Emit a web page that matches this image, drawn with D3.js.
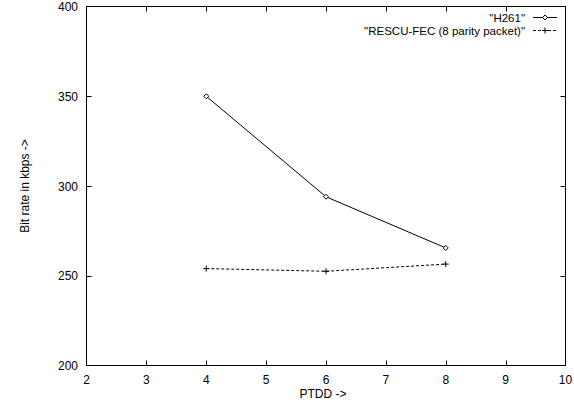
<!DOCTYPE html>
<html><head><meta charset="utf-8">
<script src="https://cdn.jsdelivr.net/npm/d3@7"></script>
<style>body{margin:0;background:#fff}svg{display:block}text{font-family:"Liberation Sans",Arial,sans-serif;font-size:12px;fill:#000}text.leg{font-size:11.5px}</style>
</head><body><svg id="c" width="574" height="402"></svg>
<script>
const xTicks = [2,3,4,5,6,7,8,9,10];
const yTicks = [200,250,300,350,400];
const ptdd = [4,6,8];
const h261 = [350,294,265.5];
const rescu = [254,252.5,256.5];
const seriesNames = ['"H261"','"RESCU-FEC (8 parity packet)"'];

const svg = d3.select("#c");
const L=86.5,R=565.5,T=6.5,B=365.5;
const x = d3.scaleLinear().domain([2,10]).range([L,R]);
const y = d3.scaleLinear().domain([200,400]).range([B,T]);
const tl=5;
const g = svg.append("g");
xTicks.forEach(v=>{
  const px=Math.round(x(v))+0.5;
  if(v>2&&v<10){
    g.append("line").attr("x1",px).attr("x2",px).attr("y1",B).attr("y2",B-tl).attr("stroke","#000");
    g.append("line").attr("x1",px).attr("x2",px).attr("y1",T).attr("y2",T+tl).attr("stroke","#000");
  }
  g.append("text").attr("x",x(v)).attr("y",B+18).attr("text-anchor","middle").text(v);
});
yTicks.forEach(v=>{
  const py=Math.round(y(v))+0.5;
  if(v>200&&v<400){
    g.append("line").attr("x1",L).attr("x2",L+tl).attr("y1",py).attr("y2",py).attr("stroke","#000");
    g.append("line").attr("x1",R).attr("x2",R-tl).attr("y1",py).attr("y2",py).attr("stroke","#000");
  }
  g.append("text").attr("x",L-8.5).attr("y",y(v)+4.5).attr("text-anchor","end").text(v);
});
g.append("rect").attr("x",L).attr("y",T).attr("width",R-L).attr("height",B-T).attr("fill","none").attr("stroke","#000");

svg.append("text").attr("x",323).attr("y",398).attr("text-anchor","middle").text("PTDD ->");
svg.append("text").attr("transform","translate(29,186) rotate(-90)").attr("text-anchor","middle").text("Bit rate in kbps ->");

const line = d3.line().x(d=>x(d[0])).y(d=>y(d[1]));
const d1 = ptdd.map((p,i)=>[p,h261[i]]);
const d2 = ptdd.map((p,i)=>[p,rescu[i]]);
svg.append("path").attr("d",line(d1)).attr("fill","none").attr("stroke","#000").attr("stroke-width",1);
svg.append("path").attr("d",line(d2)).attr("fill","none").attr("stroke","#000").attr("stroke-width",1).attr("stroke-dasharray","3,2");

function diamond(cx,cy){
  svg.append("path").attr("d",`M${cx},${cy-2.5}L${cx+2.5},${cy}L${cx},${cy+2.5}L${cx-2.5},${cy}Z`).attr("fill","#fff").attr("stroke","#000");
}
function plus(cx,cy){
  svg.append("path").attr("d",`M${cx-3},${cy}H${cx+3}M${cx},${cy-3}V${cy+3}`).attr("stroke","#000");
}
d1.forEach(d=>diamond(x(d[0]),y(d[1])));
d2.forEach(d=>plus(x(d[0]),y(d[1])));

svg.append("text").attr("class","leg").attr("x",525).attr("y",21.5).attr("text-anchor","end").text(seriesNames[0]);
svg.append("line").attr("x1",533).attr("x2",557).attr("y1",17.5).attr("y2",17.5).attr("stroke","#000");
diamond(545,17.5);
svg.append("text").attr("class","leg").attr("x",525).attr("y",34.5).attr("text-anchor","end").text(seriesNames[1]);
svg.append("line").attr("x1",533).attr("x2",557).attr("y1",30.5).attr("y2",30.5).attr("stroke","#000").attr("stroke-dasharray","3,2");
plus(545,30.5);
</script></body></html>
